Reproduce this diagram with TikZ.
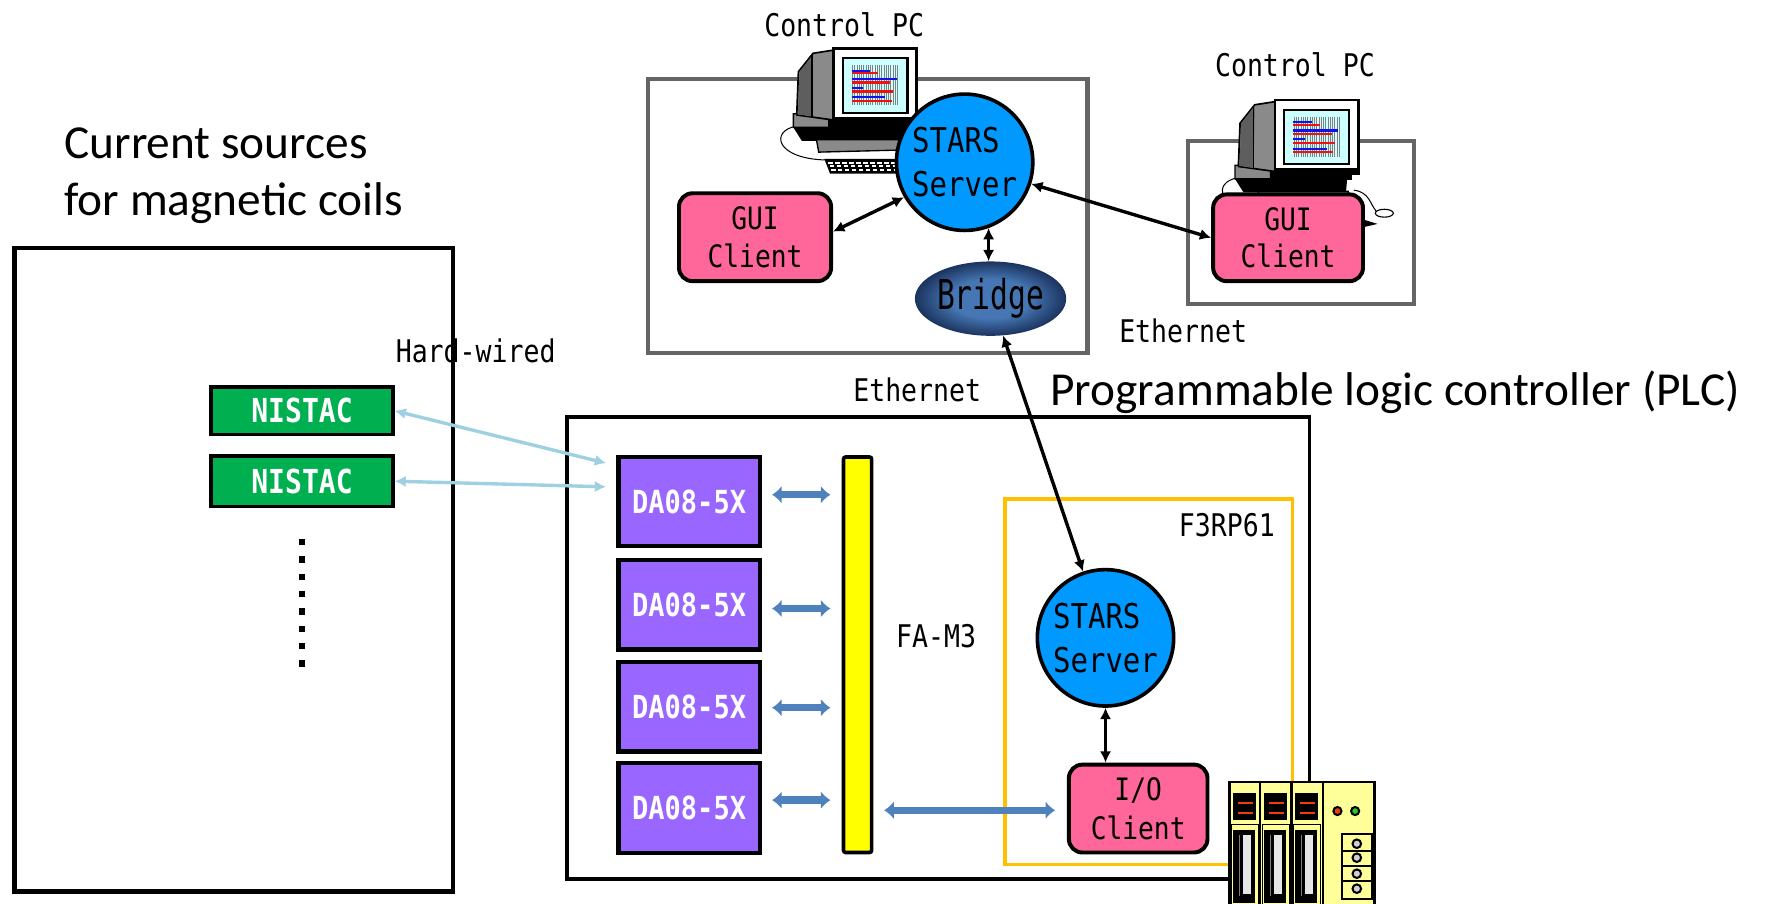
\documentclass[tikz,border=0pt]{standalone}
\usepackage{fontspec}
\usetikzlibrary{arrows.meta,calc,shapes.geometric}
\setmainfont{Carlito}
\newfontfamily\gothic[FakeStretch=0.85]{DejaVu Sans Mono}
\newfontfamily\gothictall[FakeStretch=0.72]{DejaVu Sans Mono}

\definecolor{pinkfill}{HTML}{FF6699}
\definecolor{serverblue}{HTML}{0099FF}
\definecolor{nistacgreen}{HTML}{00B050}
\definecolor{daviolet}{HTML}{9966FF}
\definecolor{busyellow}{HTML}{FFFF00}
\definecolor{linkblue}{HTML}{4F81BD}
\definecolor{wireblue}{HTML}{9FD0E2}
\definecolor{cpuorange}{HTML}{FFC000}
\definecolor{pcgray}{HTML}{656565}
\definecolor{pcbody}{HTML}{8A8A8A}
\definecolor{pcshadow}{HTML}{5E5E5E}
\definecolor{screencyan}{HTML}{CCFFFF}
\definecolor{barblue}{HTML}{1010F0}
\definecolor{barred}{HTML}{F01010}
\definecolor{plcpale}{HTML}{FFFF99}
\definecolor{plcred}{HTML}{F03A10}
\definecolor{plcgreen}{HTML}{22CC22}
\definecolor{plcslot}{HTML}{E6E6E6}
\definecolor{bridgein}{HTML}{4677B4}
\definecolor{bridgeout}{HTML}{1B335E}

% radial shading: the path's box maps onto the central 50bp square
\pgfdeclareradialshading{bridgeshade}{\pgfpoint{0bp}{0bp}}{%
  color(0bp)=(bridgein); color(13bp)=(bridgein); color(25bp)=(bridgeout); color(50bp)=(bridgeout)}

\newcommand\pcTitleFont{\fontsize{42}{50}\selectfont}
\newcommand\pcTagFont{\gothic\fontsize{27.7}{32}\selectfont}
\newcommand\pcServerFont{\gothic\fontsize{30.3}{39}\selectfont}
\newcommand\pcClientFont{\gothic\fontsize{27.4}{33}\selectfont}
\newcommand\pcBridgeFont{\gothictall\fontsize{36.5}{40}\selectfont}
\newcommand\pcModuleFont{\gothic\bfseries\fontsize{28.2}{32}\selectfont}
\newcommand\pcNistacFont{\gothic\bfseries\fontsize{29.3}{32}\selectfont}

\tikzset{
  clientbox/.style={rectangle, rounded corners=12pt, draw=black, line width=3.5pt,
    fill=pinkfill, align=center, inner sep=0pt, font=\pcClientFont},
  serverdisc/.style={circle, draw=black, line width=3.2pt, fill=serverblue,
    minimum size=121pt, inner sep=0pt, align=left, font=\pcServerFont},
  nistacbox/.style={rectangle, draw=black, line width=3.2pt, fill=nistacgreen,
    text=white, minimum width=161pt, inner sep=0pt, font=\pcNistacFont},
  dabox/.style={rectangle, draw=black, line width=3.8pt, fill=daviolet, text=white,
    minimum width=125.5pt, minimum height=79.5pt, inner sep=0pt, font=\pcModuleFont},
  tagtext/.style={anchor=base west, inner sep=0pt, font=\pcTagFont},
  titletext/.style={anchor=base west, inner sep=0pt, font=\pcTitleFont},
  bothways/.style={draw=black, line width=3pt,
    {Latex[length=10pt,width=10pt]}-{Latex[length=10pt,width=10pt]}},
  buslink/.style={draw=linkblue, line width=6.5pt,
    {Latex[length=8.5pt,width=16pt]}-{Latex[length=8.5pt,width=16pt]}},
  wirelink/.style={draw=wireblue, line width=3pt,
    {Latex[length=10pt,width=10pt]}-{Latex[length=10pt,width=10pt]}},
  % desktop computer clip-art, origin at the top-left corner of the bezel
  computer/.pic={
    \draw[line width=0.9pt] (-33,69) .. controls (-56,73) and (-52,98) .. (-6,99);
    \filldraw[fill=pcbody, draw=black, line width=1.2pt] (-35.5,58) -- (-4,57) -- (-4,70) -- (-35.5,70) -- cycle;
    \fill[black] (-4,60) rectangle (68,71);
    \fill[black] (-35.5,70) -- (64,70) -- (63,82) -- (-28,82) -- cycle;
    \filldraw[fill=pcbody, draw=black, line width=1.2pt] (-15,81) -- (65,81) -- (65,90) -- (-13,92) -- cycle;
    \fill[black] (-8,98) -- (62,98) -- (59,111) -- (-3,111) -- cycle;
    \foreach \kr in {0,1,2}
      \foreach \kc in {0,...,9}
        \fill[white] ({-4.5+\kr*1.2+\kc*6.2},{100.5+\kr*3.3}) rectangle ++(4,1.6);
    \filldraw[fill=pcbody, draw=black, line width=1.5pt, line join=round]
      (0,1.5) -- (-18,4.3) -- (-31,20.6) -- (-32.5,59) -- (0,63.5) -- cycle;
    \fill[pcshadow] (-18,5) -- (-30,21) -- (-31.5,58.5) -- (-19,60.5) -- cycle;
    \draw[black, line width=1pt] (-19,5) -- (-19,61);
    \filldraw[fill=white, draw=black, line width=2.5pt] (0,0) rectangle (74,65);
    \fill[black] (0,60.5) rectangle (74,66);
    \filldraw[fill=screencyan, draw=black, line width=2pt] (8.3,8.8) rectangle (65.7,57);
    \foreach \sx in {17,19,...,57}
      \draw[gray, line width=0.6pt] (\sx,14.7) -- (\sx,50.2);
    \foreach \by/\bx/\bc in {19.7/32.5/barblue, 22.1/39.9/barred, 27.1/56.2/barblue,
        30.1/50.3/barred, 34.8/26.6/barblue, 38.3/53.2/barred, 43.4/45.9/barblue, 46.3/51.8/barred}
      \draw[\bc, line width=2pt] (16.3,\by) -- (\bx,\by);
  },
  pcmouse/.pic={
    \draw[line width=0.9pt] (70,80) .. controls (84,82) and (84,92) .. (90,99);
    \fill[black] (78,106) -- (91,110) -- (78,113) -- cycle;
    \filldraw[fill=white, draw=black, line width=1pt] (97,100.5) ellipse [x radius=8, y radius=3.5];
  }
}

\begin{document}
\begin{tikzpicture}[x=1pt,y=-1pt]
\useasboundingbox (0,0) rectangle (1568,802);
\fill[white] (0,0) rectangle (1568,802);

% enclosures
\draw[black, line width=4pt] (13,220) rectangle (402,791);
\draw[black, line width=3.2pt] (503,370) rectangle (1162,780);
\draw[cpuorange, line width=3.2pt] (892,443) rectangle (1147,767);
\draw[pcgray, line width=3.8pt] (575,70) rectangle (965,313);
\draw[pcgray, line width=3.8pt] (1054,125) rectangle (1255,270);

% control PCs
\pic at (739.5,43) {computer};
\pic at (1131.4,88.7) {pcmouse};
\pic at (1131.4,88.7) {computer};

% software components
\node[serverdisc] (stars1) at (856,144) {STARS\\Server};
\node[clientbox, minimum width=135pt, minimum height=78pt] (gui1) at (670,210.5) {GUI\\Client};
\node[clientbox, minimum width=133pt, minimum height=77pt] (gui2) at (1143,211) {GUI\\Client};
\node[ellipse, minimum width=114pt, minimum height=66pt, inner sep=0pt,
      shade, shading=bridgeshade, font=\pcBridgeFont] (bridge) at (879,265) {Bridge};
\node[serverdisc] (stars2) at (981,566) {STARS\\Server};
\node[clientbox, minimum width=123pt, minimum height=78pt, font=\gothic\fontsize{27.4}{35}\selectfont]
      (io) at (1010,717.5) {I/O\\Client};

% current sources
\node[nistacbox, minimum height=42pt] (nistac1) at (268,364.5) {NISTAC};
\node[nistacbox, minimum height=45pt] (nistac2) at (268,427) {NISTAC};
\foreach \i in {0,...,7}
  \fill[black] (265.2,{478.3+15.4*\i}) rectangle ++(5.8,5.6);

% FA-M3 modules and bus
\node[dabox] (da1) at (611.5,445) {DA08-5X};
\node[dabox] (da2) at (611.5,536.5) {DA08-5X};
\node[dabox] (da3) at (611.5,627) {DA08-5X};
\node[dabox] (da4) at (611.5,717) {DA08-5X};
\node[rectangle, draw=black, line width=3.2pt, fill=busyellow, rounded corners=2pt,
      minimum width=25pt, minimum height=351pt, inner sep=0pt] (bar) at (761,581) {};

% connectors
\draw[wirelink] (nistac1.east) -- ($(da1.west)+(-9,-34)$);
\draw[wirelink] (nistac2.east) -- ($(da1.west)+(-9,-13)$);
\foreach \m/\dy in {da1/-6, da2/3.5, da3/1, da4/-7}
  \draw[buslink] ($(\m.east)+(9,\dy)$) -- ($(bar.west |- \m.east)+(-10,\dy)$);
\draw[buslink] ($(bar.east |- io.west)+(9.5,1.5)$) -- ($(io.west)+(-10.5,1.5)$);
\draw[bothways] ([yshift=5pt]gui1.east) -- (stars1.210);
\draw[bothways] (stars1.342) -- (gui2.west);
\draw[bothways] (stars1.290) -- (stars1.290 |- bridge.north);
\draw[bothways] (bridge) -- (stars2);
\draw[bothways] (stars2.south) -- (stars2.south |- io.north);

% labels
\node[tagtext] (ctrl1) at (678,32) {Control PC};
\node[tagtext] (ctrl2) at (1078,68) {Control PC};
\node[tagtext] (hardwired) at (351,322) {Hard-wired};
\node[tagtext] (eth1) at (757,356) {Ethernet};
\node[tagtext] (eth2) at (993,304) {Ethernet};
\node[tagtext] (f3rp) at (1046,476) {F3RP61};
\node[tagtext] (fam3) at (795,575) {FA-M3};

\node[titletext] (coils1) at (57,141) {Current sources};
\node[titletext] (coils2) at (57,191) {for magnetic coils};
\node[titletext] (plctitle) at (932,360) {Programmable logic controller (PLC)};

% PLC hardware
\begin{scope}
  \clip (1080,680) rectangle (1240,802);
  \begin{scope}[shift={(1091,694)}]
    \filldraw[fill=plcpale, draw=black, line width=2.5pt] (0,0) rectangle (128.5,130);
    \foreach \sx in {0,27.5,55} {
      \fill[black] (\sx+3,9.8) rectangle (\sx+23.7,34);
      \draw[plcred, line width=2pt] (\sx+8,18.6) -- (\sx+21,18.6) (\sx+8,27.2) -- (\sx+21,27.2);
      \draw[black, line width=1pt] (\sx+1.8,37.5) rectangle (\sx+25.7,130);
      \fill[black] (\sx+3.5,42.3) rectangle (\sx+22.8,107);
      \fill[plcslot] (\sx+12.4,47) rectangle (\sx+18.9,99);
      \draw[gray, line width=1pt] (\sx+8.9,47) -- (\sx+8.9,101);
    }
    \foreach \dx in {27.3,55,82.8}
      \draw[black, line width=2pt] (\dx,0) -- (\dx,130);
    \filldraw[fill=plcred, draw=black, line width=1.8pt] (95.8,25.7) circle[radius=3.6];
    \filldraw[fill=plcgreen, draw=black, line width=1.8pt] (111.5,25.7) circle[radius=3.6];
    \draw[black, line width=1.8pt] (99.7,45.8) rectangle (126.3,103.5);
    \foreach \cy in {61,74.5,88}
      \draw[black, line width=1.5pt] (99.7,\cy) -- (126.3,\cy);
    \foreach \cy in {54.7,67.1,81.3,94.6}
      \filldraw[fill=plcslot!80!gray, draw=black, line width=1.8pt] (113,\cy) circle[radius=3.8];
  \end{scope}
\end{scope}
\end{tikzpicture}
\end{document}
